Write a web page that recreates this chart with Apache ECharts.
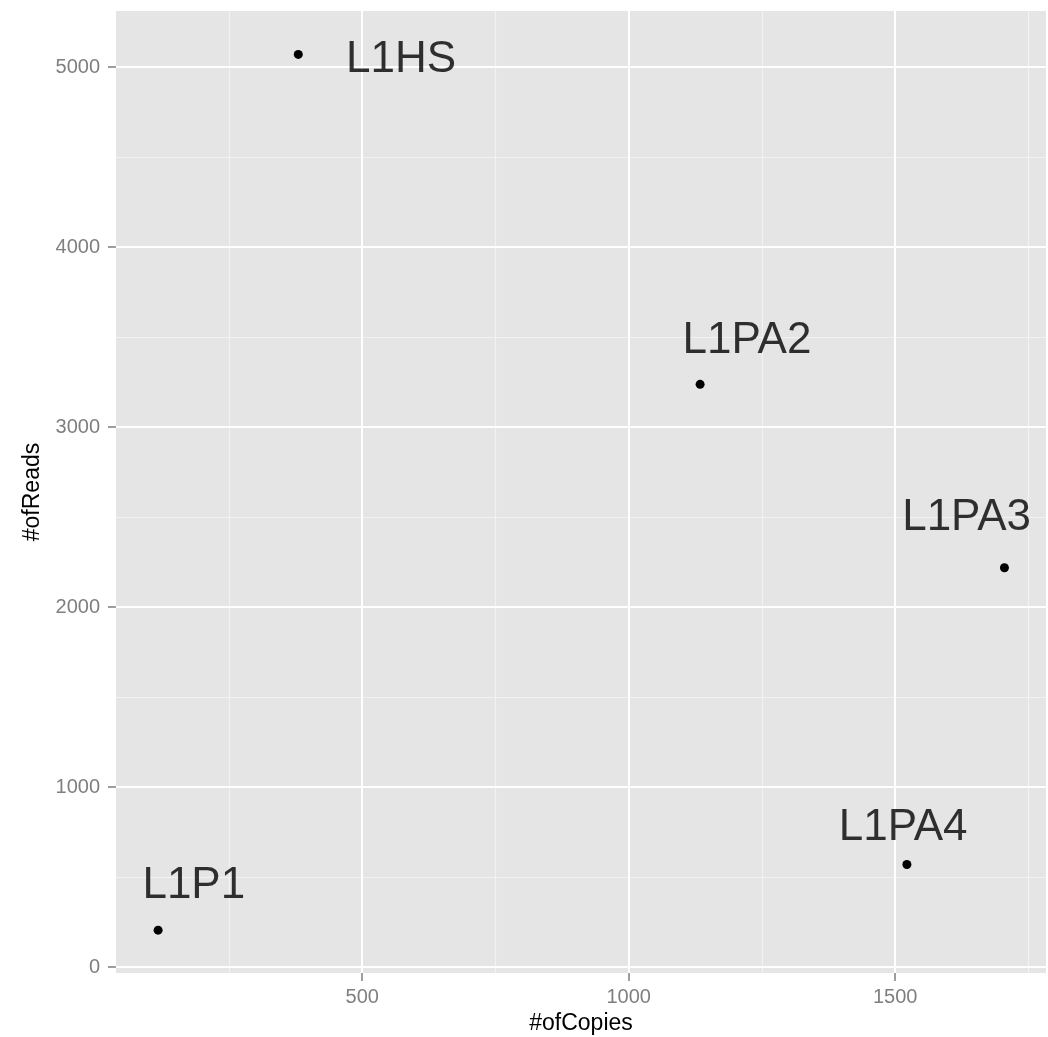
<!DOCTYPE html>
<html><head><meta charset="utf-8">
<script src="https://cdn.jsdelivr.net/npm/echarts@6/dist/echarts.min.js"></script>
<style>html,body{margin:0;padding:0;background:#fff}#c{width:1048px;height:1037px}</style>
</head><body><div id="c"></div>
<script>
const names = ['L1HS', 'L1PA2', 'L1PA3', 'L1PA4', 'L1P1'];
const copies = [380, 1134, 1705, 1522, 117];
const reads = [5070, 3237, 2218, 570, 205];
const labelCopies = [573, 1222, 1634, 1515, 184];
const labelReads = [5040, 3480, 2497, 776, 449];
const xMajor = [500, 1000, 1500];
const xMinor = [250, 750, 1250, 1750];
const yMajor = [0, 1000, 2000, 3000, 4000, 5000];
const yMinor = [500, 1500, 2500, 3500, 4500];
const xRange = [38, 1783];
const yRange = [-33, 5311];

const FONT = 'Liberation Sans, Arial, Helvetica, sans-serif';
const chart = echarts.init(document.getElementById('c'), null, {renderer: 'canvas'});

const gridLines = [
  ...xMinor.map(v => ({xAxis: v, lineStyle: {color: '#F2F2F2', width: 1.2, type: 'solid'}})),
  ...yMinor.map(v => ({yAxis: v, lineStyle: {color: '#F2F2F2', width: 1.2, type: 'solid'}})),
  ...xMajor.map(v => ({xAxis: v, lineStyle: {color: '#FFFFFF', width: 2, type: 'solid'}})),
  ...yMajor.map(v => ({yAxis: v, lineStyle: {color: '#FFFFFF', width: 2, type: 'solid'}}))
];

const axisCommon = {
  type: 'value',
  axisLine: {show: false, onZero: false},
  axisTick: {show: true, length: 8, lineStyle: {color: '#7F7F7F', width: 1.5}},
  splitLine: {show: false},
  nameLocation: 'middle',
  nameTextStyle: {color: '#000', fontSize: 23, fontFamily: FONT}
};

chart.setOption({
  animation: false,
  backgroundColor: '#ffffff',
  grid: {left: 116, right: 2, top: 11, bottom: 64, show: true, backgroundColor: '#E5E5E5', borderWidth: 0, outerBoundsMode: 'none', containLabel: false},
  xAxis: Object.assign({}, axisCommon, {
    min: xRange[0], max: xRange[1],
    name: '#ofCopies', nameGap: 34,
    axisTick: Object.assign({}, axisCommon.axisTick, {customValues: xMajor}),
    axisLabel: {customValues: xMajor, color: '#7F7F7F', fontSize: 20, fontFamily: FONT, margin: 14, formatter: v => String(v)}
  }),
  yAxis: Object.assign({}, axisCommon, {
    min: yRange[0], max: yRange[1],
    name: '#ofReads', nameGap: 64,
    axisTick: Object.assign({}, axisCommon.axisTick, {customValues: yMajor}),
    axisLabel: {customValues: yMajor, color: '#7F7F7F', fontSize: 20, fontFamily: FONT, margin: 16, formatter: v => String(v)}
  }),
  series: [
    {
      type: 'scatter', data: [], silent: true, z: 1,
      markLine: {silent: true, z: 1, symbol: 'none', animation: false, label: {show: false}, emphasis: {disabled: true}, data: gridLines}
    },
    {
      type: 'scatter', z: 3, silent: true,
      symbol: 'circle', symbolSize: 9,
      itemStyle: {color: '#000000', opacity: 1},
      data: copies.map((c, i) => [c, reads[i]])
    },
    {
      type: 'scatter', z: 4, silent: true,
      symbolSize: 0,
      data: labelCopies.map((c, i) => [c, labelReads[i], names[i]]),
      label: {
        show: true, position: 'inside', align: 'center', verticalAlign: 'middle',
        color: '#000', fontSize: 44, fontFamily: FONT,
        formatter: p => p.value[2]
      }
    }
  ]
});
</script>
</body></html>
